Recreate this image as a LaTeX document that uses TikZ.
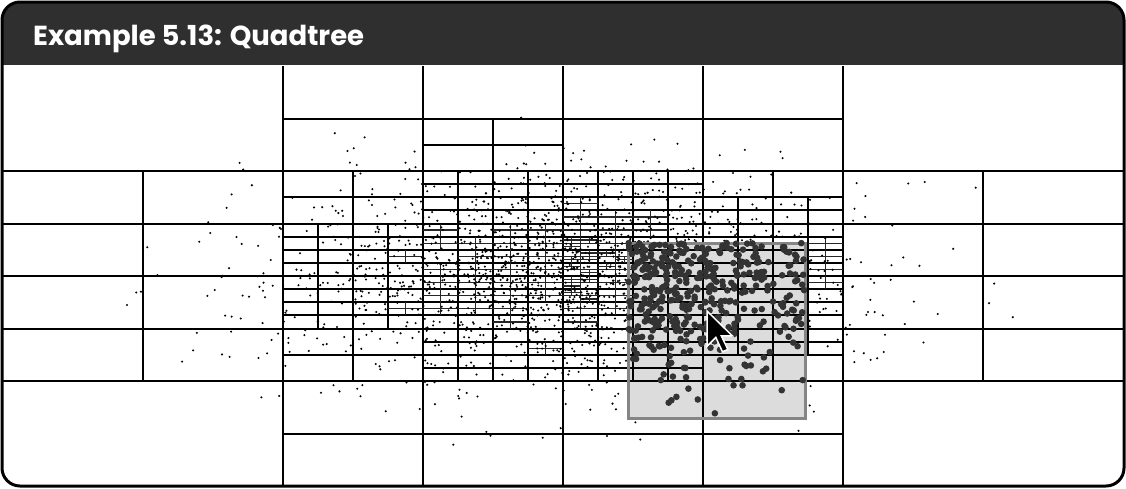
\documentclass[tikz,border=0pt]{standalone}
\usepackage{fontspec}
\newfontfamily\titlefont{Poppins}
\definecolor{headc}{HTML}{2F2F2F}
\definecolor{boxfill}{HTML}{DCDCDC}
\definecolor{boxline}{HTML}{858585}
\definecolor{bigdot}{HTML}{333333}
\tikzset{
  ql/.style={line width=2pt, black},
  qlt/.style={line width=1.3pt, black!85},
  qbox/.style={fill=boxfill},
  qborder/.style={draw=boxline, line width=3pt},
  frame/.style={line width=3pt, rounded corners=18pt},
}
\newcommand\qs[3]{\draw[ql] ({#1+#3/2},{#2}) -- ++(0,{#3}) ({#1},{#2+#3/2}) -- ++({#3},0);}
\newcommand\qt[3]{\draw[qlt] ({#1+#3/2},{#2}) -- ++(0,{#3}) ({#1},{#2+#3/2}) -- ++({#3},0);}
\newcommand\gauspt{%
  \pgfmathsetmacro\ua{rnd*0.9998+0.0001}%
  \pgfmathsetmacro\ub{rnd}%
  \pgfmathsetmacro\rr{sqrt(-2*ln(\ua))}%
  \pgfmathsetmacro\pxa{563+140*\rr*cos(360*\ub)}%
  \pgfmathsetmacro\pya{276+52.5*\rr*sin(360*\ub)}%
  \pgfmathsetmacro\pxb{563+140*\rr*cos(360*\ub+90)}%
  \pgfmathsetmacro\pyb{276+52.5*\rr*sin(360*\ub+90)}%
}
\newcommand\inbox[2]{%
  \def\isin{0}%
  \ifdim#1pt>628pt \ifdim#1pt<805pt \ifdim#2pt>243pt \ifdim#2pt<418pt \def\isin{1}\fi\fi\fi\fi}
\begin{document}
\begin{tikzpicture}[x=1pt,y=-1pt]
\useasboundingbox (0,0) rectangle (1126,488);
\fill[white] (0,0) rectangle (1126,488);
\begin{scope}
\clip[rounded corners=18pt] (2,2) rectangle (1124,486);
\fill[qbox] (628,243) rectangle (805,418);
% quadtree
\begin{scope}[shift={(3,66)},x=140pt,y=-52.5pt]
\foreach \a/\b/\c in {0/0/8,0/0/4,4/0/4,0/4/4,4/4/4,2/0/2,4/0/2,0/2/2,2/2/2,4/2/2,6/2/2,0/4/2,2/4/2,4/4/2,6/4/2,2/6/2,4/6/2}{\qs{\a}{\b}{\c}}
\foreach \a/\b in {3/1,2/2,3/2,2/3,3/3,4/2,5/2,4/3,5/3,2/4,3/4,2/5,3/5,4/4,5/4,4/5,5/5}{\qs{\a}{\b}{1}}
\foreach \a/\b in {3/2,2/3,3/3,4/2,4/3,5/3,2/4,3/4,4/4,5/4,3/5}{\qs{\a}{\b}{.5}\qs{\a+.5}{\b}{.5}\qs{\a}{\b+.5}{.5}\qs{\a+.5}{\b+.5}{.5}}
\foreach \a/\b in {5/2.5,5.5/2.5,4/5,4.5/5,4/5.5,4.5/5.5,5/5,5.5/5}{\qs{\a}{\b}{.5}}
\foreach \a/\b in {3/3,3.5/3,3.75/3,3/3.25,3.25/3.25,3.5/3.25,3.75/3.25,3.25/3.5,3.5/3.5,3.75/3.5,3/3.75,3.25/3.75,3.5/3.75,3.75/3.75,3/4,3.25/4,3.5/4,3.75/4,3/4.25,3.25/4.25,3.5/4.25,3.75/4.25,3/4.5,3.25/4.5,3.5/4.5,3.5/4.75,
 4/2.5,4/2.75,4.25/2.75,4.5/2.75,4/3,4.25/3,4.5/3,4/3.25,4.25/3.25,4/3.5,4.25/3.5,4/3.75,4.25/3.75,4/4,4.25/4,4/4.25,4.25/4.25,4/4.5,4.25/4.5,4/4.75,
 2.75/3.5,2.75/4.5,3.75/5.25,5.75/3.25,5.75/3.5,5.75/3.75,5.75/4}{\qt{\a}{\b}{.25}}
\foreach \a/\b in {4/3.25,4.125/3.25,4/3.375,4.125/3.5,4/3.625,4.125/3.625,4/3.75,4.125/3.875,4/4,4.125/4,4/4.125,4.25/3.5,4.375/3.625,4.25/3.75,4/4.25,4.125/4.375}{\qt{\a}{\b}{.125}}
\end{scope}
% small points
\pgfmathsetseed{4711}
\foreach \i in {1,...,1000}{
  \gauspt
  \inbox{\pxa}{\pya}\ifnum\isin=0 \fill (\pxa,\pya) circle[radius=1.15pt];\fi
  \inbox{\pxb}{\pyb}\ifnum\isin=0 \fill (\pxb,\pyb) circle[radius=1.15pt];\fi
}
\draw[qborder] (628,243) rectangle (805,418);
% found points
\pgfmathsetseed{4711}
\foreach \i in {1,...,1000}{
  \gauspt
  \inbox{\pxa}{\pya}\ifnum\isin=1 \fill[bigdot] (\pxa,\pya) circle[radius=3.3pt];\fi
  \inbox{\pxb}{\pyb}\ifnum\isin=1 \fill[bigdot] (\pxb,\pyb) circle[radius=3.3pt];\fi
}
\fill[headc] (0,0) rectangle (1126,65);
\end{scope}
\draw[frame] (2,2) rectangle (1124,486);
\node[anchor=base west, text=white, inner sep=0pt, font=\titlefont\bfseries\fontsize{27.5}{32}\selectfont] (title) at (33,45) {Example 5.13: Quadtree};
\filldraw[shift={(707,311)}, x=2.2pt, y=-2.2pt, fill=black, draw=white, line width=1.5pt, line join=miter] (0,0) -- (0,16) -- (4,12) -- (7,18.5) -- (9.5,17.5) -- (6.5,11.3) -- (11.5,11.3) -- cycle;
\end{tikzpicture}
\end{document}
